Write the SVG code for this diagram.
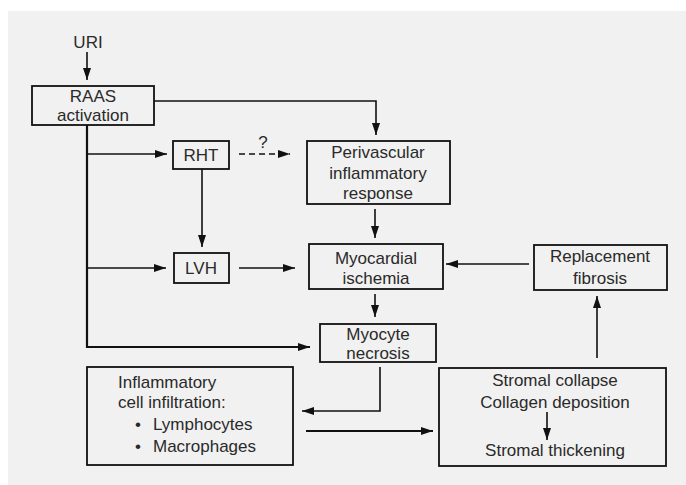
<svg xmlns="http://www.w3.org/2000/svg" width="686" height="485" viewBox="0 0 686 485">
<defs>
<marker id="ah" markerUnits="userSpaceOnUse" markerWidth="12" markerHeight="8" refX="12" refY="4" orient="auto">
<path d="M0,0 L12,4 L0,8 z" fill="#111"/>
</marker>
<style>
.box{fill:none;stroke:#111;stroke-width:1.8}
.t{font-family:"Liberation Sans",Arial,sans-serif;font-size:17px;fill:#2a2a2a}
.c{text-anchor:middle}
.ln{fill:none;stroke:#111;stroke-width:1.6}
.thick{stroke-width:2.2}
.dash{stroke-dasharray:6,4}
</style>
</defs>
<rect x="0" y="0" width="686" height="485" fill="#fff"/>
<rect x="8" y="11" width="678" height="474" fill="#f1f1f1"/>

<g id="connectors">
<line class="ln" x1="87" y1="52" x2="87" y2="80" marker-end="url(#ah)"/>
<polyline class="ln" points="154,101 376,101 376,135" marker-end="url(#ah)"/>
<polyline class="ln thick" points="87,125 87,347 310,347" marker-end="url(#ah)"/>
<line class="ln" x1="87" y1="154" x2="167" y2="154" marker-end="url(#ah)"/>
<line class="ln dash" x1="239" y1="154" x2="290" y2="154" marker-end="url(#ah)"/>
<line class="ln" x1="202" y1="169" x2="202" y2="247" marker-end="url(#ah)"/>
<line class="ln" x1="87" y1="268" x2="166" y2="268" marker-end="url(#ah)"/>
<line class="ln" x1="239" y1="268" x2="295" y2="268" marker-end="url(#ah)"/>
<line class="ln" x1="375" y1="209" x2="375" y2="238" marker-end="url(#ah)"/>
<line class="ln" x1="375" y1="294" x2="375" y2="317" marker-end="url(#ah)"/>
<polyline class="ln" points="380,367 380,411 302,411" marker-end="url(#ah)"/>
<line class="ln thick" x1="306" y1="431" x2="433" y2="431" marker-end="url(#ah)"/>
<line class="ln" x1="597" y1="358" x2="597" y2="296" marker-end="url(#ah)"/>
<line class="ln" x1="529" y1="264" x2="446" y2="264" marker-end="url(#ah)"/>
<line class="ln" x1="547" y1="412" x2="547" y2="440" marker-end="url(#ah)"/>
</g>

<g id="uri"><text class="t c" x="88" y="48">URI</text></g>

<g id="raas">
<rect class="box" x="32" y="86" width="122" height="39"/>
<text class="t c" x="93" y="102">RAAS</text>
<text class="t c" x="93" y="121">activation</text>
</g>

<g id="rht">
<rect class="box" x="173" y="141" width="56" height="28"/>
<text class="t c" x="201" y="161">RHT</text>
</g>
<g id="question"><text class="t c" x="263" y="148">?</text></g>

<g id="perivascular">
<rect class="box" x="307" y="141" width="143" height="63"/>
<text class="t c" x="378" y="158">Perivascular</text>
<text class="t c" x="378" y="179">inflammatory</text>
<text class="t c" x="378" y="199">response</text>
</g>

<g id="lvh">
<rect class="box" x="174" y="253" width="55" height="30"/>
<text class="t c" x="201" y="274">LVH</text>
</g>

<g id="myocardial">
<rect class="box" x="309" y="244" width="134" height="45"/>
<text class="t c" x="376" y="264">Myocardial</text>
<text class="t c" x="376" y="284">ischemia</text>
</g>

<g id="replacement">
<rect class="box" x="534" y="245" width="133" height="45"/>
<text class="t c" x="600" y="262">Replacement</text>
<text class="t c" x="600" y="284">fibrosis</text>
</g>

<g id="myocyte">
<rect class="box" x="320" y="324" width="116" height="38"/>
<text class="t c" x="378" y="340">Myocyte</text>
<text class="t c" x="378" y="359">necrosis</text>
</g>

<g id="inflammatory">
<rect class="box" x="87" y="367" width="206" height="98"/>
<text class="t" x="118" y="388">Inflammatory</text>
<text class="t" x="118" y="408">cell infiltration:</text>
<text class="t" x="135" y="430">•</text>
<text class="t" x="153" y="430">Lymphocytes</text>
<text class="t" x="135" y="452">•</text>
<text class="t" x="153" y="452">Macrophages</text>
</g>

<g id="stromal">
<rect class="box" x="439" y="368" width="227" height="98"/>
<text class="t c" x="555" y="386">Stromal collapse</text>
<text class="t c" x="555" y="408">Collagen deposition</text>
<text class="t c" x="555" y="456">Stromal thickening</text>
</g>
</svg>
